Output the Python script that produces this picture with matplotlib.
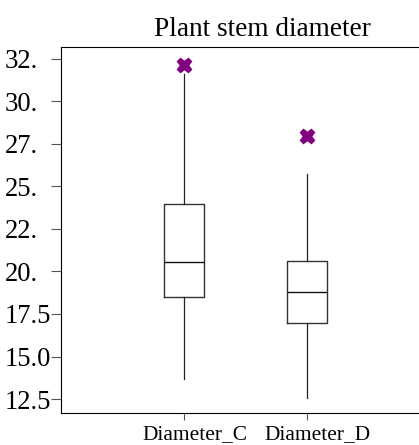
import matplotlib
matplotlib.use("Agg")
import matplotlib.pyplot as plt
from matplotlib.transforms import ScaledTranslation

categories = ["Diameter_C", "Diameter_D"]
q1 = [18.5, 16.95]
median = [20.55, 18.8]
q3 = [23.95, 20.6]
whislo = [13.7, 12.55]
whishi = [31.6, 25.75]
fliers = [[32.15], [27.95]]
ytick_values = [12.5, 15.0, 17.5, 20.0, 22.5, 25.0, 27.5, 30.0, 32.5]
ytick_labels = ["12.5", "15.0", "17.5", "20.", "22.", "25.", "27.", "30.", "32."]

plt.rcParams['font.family'] = ['Liberation Serif', 'DejaVu Serif']

fig = plt.figure(figsize=(4.19, 4.45), dpi=100)
ax = fig.add_axes([61/419, 1-413/445, 1-61/419, (413-46.5)/445])

stats = []
for i, c in enumerate(categories):
    stats.append(dict(label=c, q1=q1[i], med=median[i], q3=q3[i],
                      whislo=whislo[i], whishi=whishi[i], fliers=fliers[i]))

ax.bxp(stats, positions=[0, 1], widths=0.33, showcaps=False,
       boxprops=dict(color='#333333', linewidth=1.0),
       medianprops=dict(color='#111111', linewidth=1.0),
       whiskerprops=dict(color='#222222', linewidth=0.9),
       flierprops=dict(marker='X', markerfacecolor='#800080', markeredgecolor='#800080',
                       markersize=10.5, linestyle='none'))

ax.set_xlim(-1.007, 1.917)
ax.set_ylim(11.68, 33.22)
ax.set_yticks(ytick_values)
fs = 19.2
ax.set_yticklabels(ytick_labels, fontsize=fs)
ax.set_xticks([0, 1])
ax.set_xticklabels(categories, fontsize=15.4)
ax.spines['right'].set_visible(False)
ax.tick_params(axis='y', length=7, pad=0, color='#555555')
ax.tick_params(axis='x', length=5, pad=3.5, color='#555555')

digit_w = 0.5 * fs / 72.0
for lab, txt in zip(ax.get_yticklabels(), ytick_labels):
    if len(txt) == 3:
        lab.set_transform(lab.get_transform() + ScaledTranslation(-digit_w, 0, fig.dpi_scale_trans))

for lab in ax.get_xticklabels():
    lab.set_transform(lab.get_transform() + ScaledTranslation(0.11, 0, fig.dpi_scale_trans))

fig.text(262.5/419, 1-36/445, "Plant stem diameter", ha='center', va='baseline', fontsize=19.6)

fig.savefig("out.png", dpi=100)
